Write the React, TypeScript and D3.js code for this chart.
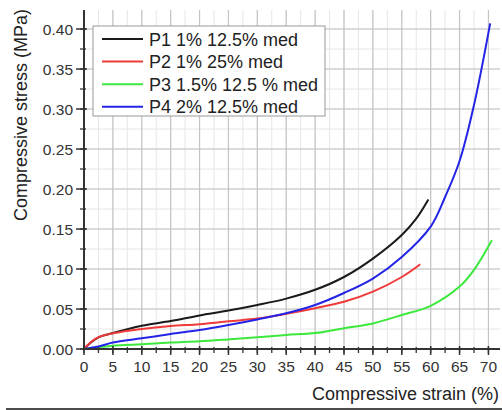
import React from "react";
import * as d3 from "d3";

const xTicks = [0, 5, 10, 15, 20, 25, 30, 35, 40, 45, 50, 55, 60, 65, 70];
const yTicks = [0, 0.05, 0.1, 0.15, 0.2, 0.25, 0.3, 0.35, 0.4];

const seriesNames = ["P1 1% 12.5% med", "P2 1% 25% med", "P3 1.5% 12.5 % med", "P4 2% 12.5% med"];
const seriesColors = ["#1a1a1a", "#f03a3a", "#3ce83c", "#2424e6"];

const p1Strain = [0, 1, 2.5, 5, 10, 15, 20, 25, 30, 35, 40, 45, 50, 55, 57.5, 59.6];
const p1Stress = [0, 0.007, 0.0146, 0.02, 0.029, 0.035, 0.042, 0.048, 0.055, 0.063, 0.074, 0.09, 0.113, 0.1425, 0.163, 0.187];

const p2Strain = [0, 1, 2.5, 5, 10, 15, 20, 25, 30, 35, 40, 45, 50, 55, 58.2];
const p2Stress = [0, 0.0075, 0.0148, 0.0196, 0.025, 0.0287, 0.031, 0.0346, 0.038, 0.044, 0.051, 0.059, 0.0717, 0.09, 0.106];

const p3Strain = [0, 2.5, 5, 10, 15, 20, 25, 30, 35, 40, 45, 50, 55, 60, 65, 67.5, 70.6];
const p3Stress = [0, 0.002, 0.004, 0.006, 0.008, 0.0096, 0.012, 0.0146, 0.0175, 0.02, 0.026, 0.032, 0.0425, 0.054, 0.078, 0.099, 0.136];

const p4Strain = [0, 2.5, 5, 10, 15, 20, 25, 30, 35, 40, 45, 50, 55, 60, 62.5, 65, 67.5, 70.3];
const p4Stress = [0, 0.003, 0.008, 0.0133, 0.0188, 0.0237, 0.03, 0.037, 0.0446, 0.055, 0.07, 0.088, 0.115, 0.153, 0.19, 0.235, 0.305, 0.407];

const seriesStrain = [p1Strain, p2Strain, p3Strain, p4Strain];
const seriesStress = [p1Stress, p2Stress, p3Stress, p4Stress];

const FONT = "'Liberation Sans', Arial, Helvetica, sans-serif";

export default function App() {
  const left = 84, right = 500, top = 10, bottom = 349;
  const x = d3.scaleLinear().domain([0, 72.0]).range([left, right]);
  const y = d3.scaleLinear().domain([0, 0.42375]).range([bottom, top]);

  const minorX = d3.range(0, 72.0, 2.5);
  const minorY = d3.range(0, 0.424, 0.025);

  const line = d3
    .line<[number, number]>()
    .x((d) => x(d[0]))
    .y((d) => y(d[1]))
    .curve(d3.curveCatmullRom.alpha(0.5));

  return (
    <svg width={502} height={410} style={{ position: "absolute", left: 0, top: 0, background: "#fff" }}>
      {/* minor grid */}
      {minorX.map((v, i) => (
        <line key={"mgx" + i} x1={x(v)} x2={x(v)} y1={top} y2={bottom} stroke="#e6e6e6" strokeWidth={1} />
      ))}
      {minorY.map((v, i) => (
        <line key={"mgy" + i} x1={left} x2={right} y1={y(v)} y2={y(v)} stroke="#e6e6e6" strokeWidth={1} />
      ))}
      {/* major grid */}
      {xTicks.map((v, i) => (
        <line key={"gx" + i} x1={x(v)} x2={x(v)} y1={top} y2={bottom} stroke="#c4c4c4" strokeWidth={1.2} />
      ))}
      {yTicks.map((v, i) => (
        <line key={"gy" + i} x1={left} x2={right} y1={y(v)} y2={y(v)} stroke="#c4c4c4" strokeWidth={1.2} />
      ))}

      {/* curves */}
      {seriesStrain.map((xs, si) => (
        <path
          key={"s" + si}
          d={line(xs.map((v, i) => [v, seriesStress[si][i]] as [number, number])) || ""}
          fill="none"
          stroke={seriesColors[si]}
          strokeWidth={2}
        />
      ))}

      {/* axes */}
      <line x1={left} x2={left} y1={top} y2={bottom + 1} stroke="#333" strokeWidth={2} />
      <line x1={left - 1} x2={right} y1={bottom} y2={bottom} stroke="#333" strokeWidth={2} />
      {minorX.map((v, i) => (
        <line key={"tx" + i} x1={x(v)} x2={x(v)} y1={bottom - 2} y2={bottom + 4} stroke="#333" strokeWidth={1.3} />
      ))}
      {xTicks.map((v, i) => (
        <line key={"Tx" + i} x1={x(v)} x2={x(v)} y1={bottom - 3} y2={bottom + 6} stroke="#333" strokeWidth={1.5} />
      ))}
      {minorY.map((v, i) => (
        <line key={"ty" + i} x1={left - 4} x2={left + 2} y1={y(v)} y2={y(v)} stroke="#333" strokeWidth={1.3} />
      ))}
      {yTicks.map((v, i) => (
        <line key={"Ty" + i} x1={left - 8} x2={left + 3} y1={y(v)} y2={y(v)} stroke="#333" strokeWidth={1.5} />
      ))}
      {xTicks.map((v, i) => (
        <text key={"lx" + i} x={x(v)} y={bottom + 23} textAnchor="middle" fontFamily={FONT} fontSize={15.5} fill="#333">
          {v}
        </text>
      ))}
      {yTicks.map((v, i) => (
        <text key={"ly" + i} x={left - 11} y={y(v) + 5.5} textAnchor="end" fontFamily={FONT} fontSize={15.5} fill="#333">
          {v.toFixed(2)}
        </text>
      ))}

      {/* axis titles */}
      <text x={499} y={400} textAnchor="end" fontFamily={FONT} fontSize={18} fill="#222">
        Compressive strain (%)
      </text>
      <text
        transform="translate(27,115) rotate(-90)"
        textAnchor="middle"
        fontFamily={FONT}
        fontSize={18}
        fill="#222"
      >
        Compressive stress (MPa)
      </text>

      {/* legend */}
      <rect x={93} y={26} width={232} height={90} fill="#fff" stroke="#999" strokeWidth={1} />
      {seriesNames.map((n, i) => (
        <g key={"lg" + i}>
          <line x1={102} x2={143} y1={39 + i * 22.6} y2={39 + i * 22.6} stroke={seriesColors[i]} strokeWidth={2} />
          <text x={149} y={39 + i * 22.6 + 6.5} fontFamily={FONT} fontSize={18} fill="#222">
            {n}
          </text>
        </g>
      ))}

      {/* bottom rule */}
      <line x1={6} x2={502} y1={409} y2={409} stroke="#111" strokeWidth={1.5} />
    </svg>
  );
}
